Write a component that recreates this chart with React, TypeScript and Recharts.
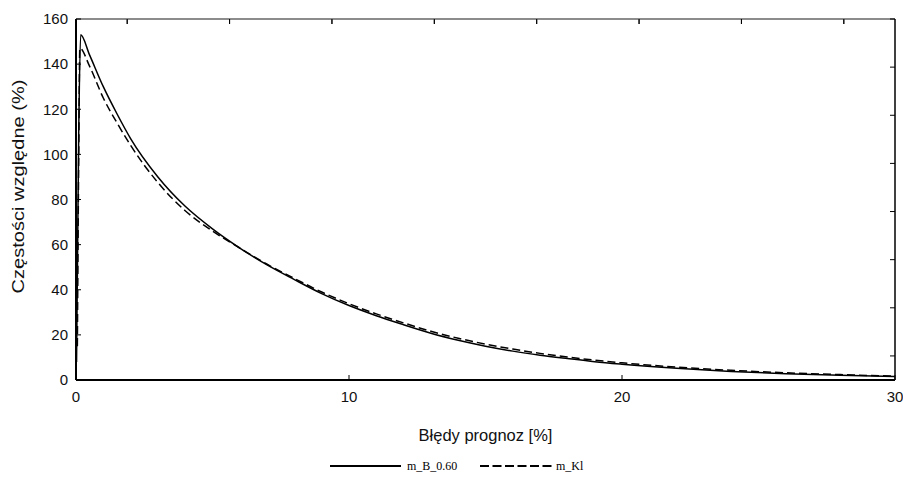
import React from 'react';
import { LineChart, Line, XAxis, YAxis, Legend, ReferenceLine } from 'recharts';

const xValues = [0.02, 0.05, 0.1, 0.14, 0.17, 0.5, 1, 1.5, 2, 3, 4, 5, 6, 7, 8, 9, 10, 11, 12, 13, 14, 15, 16, 17, 18, 19, 20, 22, 24, 26, 28, 30];
const seriesB = [8, null, 110, null, 153, 144, 130, 118, 107, 90, 77, 67, 58.5, 51, 44.5, 38.3, 33, 28.5, 24.5, 20.7, 17.6, 15, 12.8, 11, 9.5, 8.1, 7, 5.2, 3.8, 2.8, 2.1, 1.5];
const seriesKl = [null, 15, 100, 147, null, 139, 125, 114, 104, 87.5, 75, 66, 58.5, 51.3, 45, 39, 33.8, 29.3, 25.3, 21.6, 18.5, 15.9, 13.7, 11.8, 10.2, 8.8, 7.6, 5.7, 4.3, 3.2, 2.4, 1.7];

const xTicks = [0, 10, 20, 30];
const yTicks = [0, 20, 40, 60, 80, 100, 120, 140, 160];
const topTicks = [1.875, 5.625, 9.375, 13.125, 16.875, 20.625, 24.375, 28.125];
const rightTicks = [0.5, 1.5, 2.5, 3.5, 4.5, 5.5, 6.5, 7.5];

const names = ['m_B_0.60', 'm_Kl'];

const data = xValues.map((x, i) => ({ x, b: seriesB[i], kl: seriesKl[i] }));

const SANS = '"Liberation Sans", Arial, sans-serif';
const SERIF = '"Liberation Serif", "Times New Roman", serif';

const EmptyTick = () => <g />;

const YLabel = (props: any) => {
  const { x, y, height } = props.viewBox;
  const cx = x + 3;
  const cy = y + height * 0.464;
  return (
    <text x={cx} y={cy} transform={`rotate(-90 ${cx} ${cy})`} textAnchor="middle" dominantBaseline="central" fontFamily={SANS} fontSize={16} fill="#111" textLength={214} lengthAdjust="spacingAndGlyphs">
      Częstości względne (%)
    </text>
  );
};

const XLabel = (props: any) => {
  const { x, y, width, height } = props.viewBox;
  return (
    <text x={x + width / 2} y={y + height - 1} textAnchor="middle" fontFamily={SANS} fontSize={16.5} fill="#111">
      Błędy prognoz [%]
    </text>
  );
};

const LegendContent = () => (
  <svg width={903} height={18} style={{ display: 'block' }}>
    <line x1={330} x2={401} y1={9} y2={9} stroke="#000" strokeWidth={2} />
    <text x={407} y={13} fontFamily={SERIF} fontSize={12} fill="#000">{names[0]}</text>
    <line x1={480} x2={552} y1={9} y2={9} stroke="#000" strokeWidth={2} strokeDasharray="9 3.5" />
    <text x={556} y={13} fontFamily={SERIF} fontSize={12} fill="#000">{names[1]}</text>
  </svg>
);

export default function App() {
  return (
    <div style={{ position: 'absolute', left: 0, top: 0, width: 903, height: 477, background: '#fff' }}>
      <LineChart width={903} height={477} data={data} margin={{ top: 18, right: 7, bottom: 35, left: 16 }}>
        <XAxis
          dataKey="x"
          type="number"
          domain={[0, 30]}
          ticks={xTicks}
          height={62}
          tickSize={-5}
          tickMargin={16}
          axisLine={{ stroke: '#000', strokeWidth: 2 }}
          tickLine={{ stroke: '#000' }}
          tick={{ fontFamily: SANS, fontSize: 15, fill: '#111' }}
          interval={0}
          label={<XLabel />}
        />
        <XAxis
          xAxisId="top"
          orientation="top"
          dataKey="x"
          type="number"
          domain={[0, 30]}
          ticks={topTicks}
          height={1}
          tickSize={-5}
          tick={<EmptyTick />}
          axisLine={{ stroke: '#666', strokeWidth: 1.5 }}
          tickLine={{ stroke: '#000' }}
          interval={0}
        />
        <YAxis
          type="number"
          domain={[0, 160]}
          ticks={yTicks}
          width={60}
          tickSize={-5}
          tickMargin={13}
          axisLine={{ stroke: '#000', strokeWidth: 2 }}
          tickLine={{ stroke: '#000' }}
          tick={{ fontFamily: SANS, fontSize: 15, fill: '#111' }}
          interval={0}
          label={<YLabel />}
        />
        <YAxis
          yAxisId="right"
          orientation="right"
          type="number"
          domain={[0, 7.5]}
          ticks={rightTicks}
          width={1}
          tickSize={-5}
          tick={<EmptyTick />}
          axisLine={{ stroke: '#000', strokeWidth: 1.5 }}
          tickLine={{ stroke: '#000' }}
          interval={0}
          allowDataOverflow
        />
        {topTicks.map((t) => (
          <ReferenceLine key={t} segment={[{ x: t, y: 160 }, { x: t, y: 157.8 }]} stroke="#000" strokeWidth={1} ifOverflow="visible" />
        ))}
        <Legend
          layout="vertical"
          align="center"
          verticalAlign="middle"
          wrapperStyle={{ position: 'absolute', left: 0, top: 457, width: 903, height: 18 }}
          content={<LegendContent />}
        />
        <Line dataKey="b" name={names[0]} type="monotone" stroke="#000" strokeWidth={1.5} dot={false} connectNulls isAnimationActive={false} />
        <Line dataKey="kl" name={names[1]} type="monotone" stroke="#000" strokeWidth={1.5} strokeDasharray="8 4" dot={false} connectNulls isAnimationActive={false} />
      </LineChart>
    </div>
  );
}
